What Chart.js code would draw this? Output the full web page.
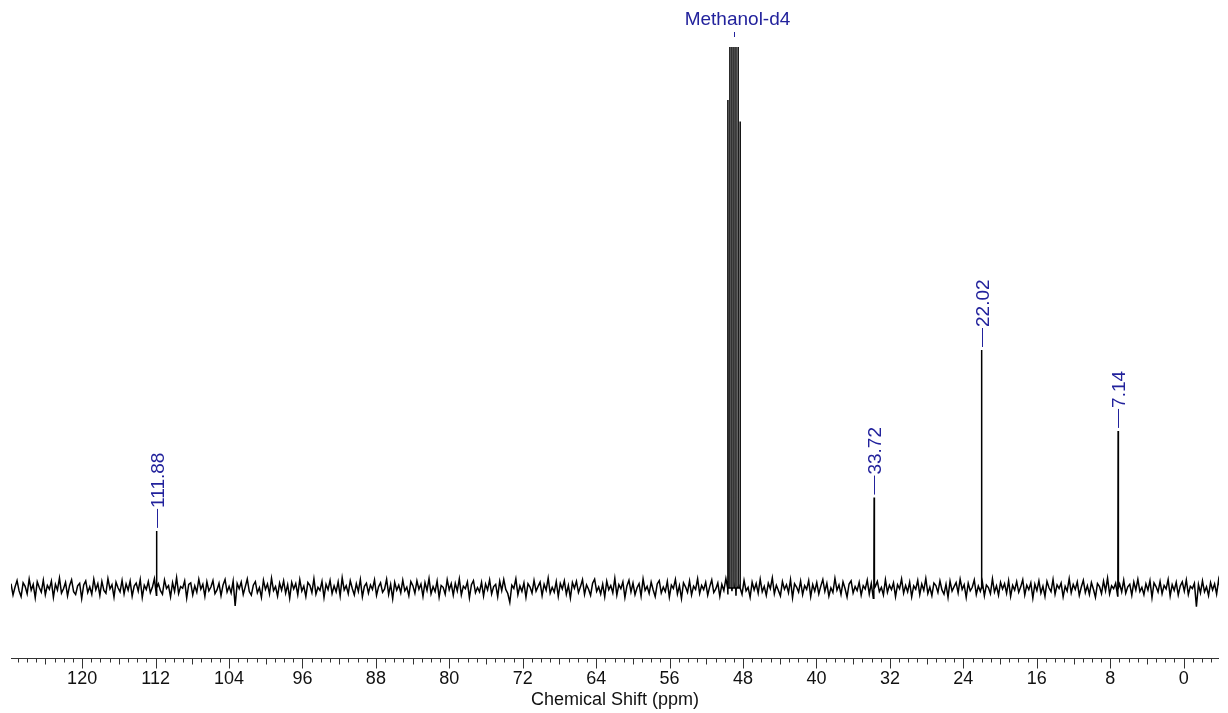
<!DOCTYPE html>
<html>
<head>
<meta charset="utf-8">
<title>13C NMR spectrum</title>
<script src="https://cdn.jsdelivr.net/npm/chart.js@4.4.1/dist/chart.umd.min.js"></script>
<style>
  html, body { margin: 0; padding: 0; background: #fff; }
  #wrap { width: 1228px; height: 713px; position: relative; }
</style>
</head>
<body>
<div id="wrap"><canvas id="nmr"></canvas></div>
<script>
// x range of the plot (ppm), drawn reversed
const X_LEFT = 127.75;
const X_RIGHT = -3.85;
const Y_MIN = -29.4;
const Y_MAX = 227.3;

const tickValues = [120, 112, 104, 96, 88, 80, 72, 64, 56, 48, 40, 32, 24, 16, 8, 0];

// baseline noise, one value every NOISE_STEP ppm from X_LEFT
const NOISE_STEP = 0.22;
const noise = [
  1.8, -2.9, 0.4, 3.1, -1.2, -3.6, 2.2, 0.7, -2.4, 3.8, -0.9, 1.5, -4.1, 2.6, 0.2, -1.7, 3.3, -2.8, 1.1, -0.5,
  2.9, -3.9, 1.6, -0.8, 4.2, -2.1, -0.3, 2.4, -3.3, 1.0, 3.5, -1.5, -2.7, 0.9, 2.0, -4.4, 1.3, 3.0, -1.9, 0.5,
  -2.6, 3.7, -0.7, 1.9, -3.1, 2.8, -1.0, -2.2, 4.0, -0.4, 1.4, -3.8, 2.5, 0.1, -1.6, 3.2, -2.5, 1.7, -0.9, 2.9,
  -3.4, 0.8, 2.1, -1.3, 3.6, -4.0, 1.2, -0.6, 2.7, -2.0, 0.3, 3.9, -3.0, 1.8, -1.1, -2.6, 3.4, -0.2, 1.0, -3.7,
  2.3, -1.4, 4.4, -2.3, 0.6, -0.1, 3.0, -4.2, 1.5, 2.2, -2.9, 0.9, -1.8, 3.7, -0.5, 1.6, -3.5, 2.6, -1.2, 0.4,
  3.1, -2.4, -0.8, 2.0, -3.2, 1.3, 3.6, -1.7, 0.7, -2.1, 2.9, -7.5, 1.9, -0.3, 2.5, -2.7, 0.5, 3.8, -1.5, -3.0,
  1.2, 2.7, -2.0, 0.2, -3.9, 3.3, -0.6, 1.7, -2.5, 4.1, -1.1, 0.6, -3.4, 2.1, -0.9, 3.0, -2.2, 1.4, -4.3, 2.4,
  -0.4, 1.9, -2.8, 3.5, -1.3, 0.8, -3.6, 2.3, 1.1, -1.9, 3.9, -2.6, 0.3, -1.0, 2.8, -4.0, 1.6, -0.7, 3.2, -2.3,
  0.9, -1.6, 2.6, -3.3, 4.3, -0.8, 1.0, -2.4, 3.1, -0.2, -2.9, 1.8, -1.4, 3.6, -3.7, 0.7, 2.0, -2.1, 1.3, -0.6,
  3.4, -3.1, 0.5, 2.2, -1.8, -0.4, 3.7, -2.7, 1.5, -4.5, 2.4, -0.9, 1.2, -2.0, 3.3, -1.2, 0.4, -3.2, 2.7, 1.0,
  -2.2, 3.0, -0.5, 1.7, -3.5, 2.3, -1.0, 4.0, -2.4, 0.6, -1.5, 2.9, -3.8, 1.1, 0.3, -2.6, 3.5, -0.7, 1.9, -3.0,
  2.0, -1.2, 3.8, -2.9, 0.8, -0.3, 2.6, -4.1, 1.4, 3.1, -2.0, 0.2, -1.6, 2.4, -3.3, 1.7, -0.8, 3.4, -2.5, 0.6,
  1.5, -3.6, 2.9, -1.1, 3.6, -0.6, -2.3, -6.0, 1.2, -0.2, 3.9, -2.8, 0.9, -1.4, 2.2, -3.9, 1.8, 0.4, -2.1, 3.2,
  -1.3, 0.7, 2.5, -3.2, 1.6, -0.9, 4.2, -2.2, 0.3, -1.7, 2.7, -3.5, 1.9, -0.4, 3.0, -2.6, 1.1, -4.2, 2.3, -0.1,
  2.8, -1.9, 0.6, 3.5, -2.7, 1.3, -0.5, -3.1, 2.0, 3.7, -1.4, 0.5, -2.5, 1.6, -3.7, 2.9, -0.7, 1.0, -2.0, 4.1,
  -3.0, 1.4, -0.3, 2.6, -4.0, 0.9, 3.3, -1.6, 2.1, -2.8, 0.1, 1.8, -3.4, 3.8, -1.0, 0.7, -2.3, 2.5, -0.8, -3.6,
  1.7, 3.1, -2.1, 0.4, -1.5, 2.8, -3.8, 1.2, -0.2, 3.6, -2.5, 1.0, -4.4, 2.2, 0.5, -1.8, 3.0, -2.9, 0.8, -0.6,
  3.9, -2.3, 1.1, -0.7, 2.4, -3.0, 0.6, 3.4, -1.9, -0.4, 2.1, -3.5, 1.5, -1.1, 4.0, -2.7, 0.2, -1.3, 2.8, -3.2,
  0.9, 1.6, -2.6, 3.2, -1.2, 0.3, -3.9, 2.5, -0.8, 1.9, -2.2, 3.7, -1.6, 0.7, -3.1, 2.0, -0.3, 4.3, -2.4, 1.2,
  -1.0, -3.3, 2.7, -0.5, 1.4, -2.0, 3.5, -4.1, 1.8, 0.4, -1.7, 2.9, -2.8, 1.0, -0.6, 3.1, -3.6, 1.5, -1.3, 2.3,
  -2.5, 0.8, 3.6, -1.4, 2.0, -3.4, 0.1, -1.9, 4.1, -0.9, 1.3, -2.7, 2.6, -0.2, -3.8, 1.7, 3.0, -2.1, 0.6, -1.1,
  2.4, -3.0, 1.0, -0.4, 3.3, -2.5, 1.9, -4.3, 0.7, 2.8, -1.5, 0.3, -2.9, 3.5, -1.8, 1.2, -0.7, 2.2, -3.6, 1.4,
  -0.3, 3.8, -2.2, 1.1, -1.6, 2.5, -3.7, 0.9, -0.5, 3.2, -2.8, 1.7, -1.0, 4.0, -2.3, 0.4, -3.2, 2.1, 1.0, -1.9,
  3.0, -0.8, -2.6, 1.6, -3.9, 2.9, -1.3, 0.6, 2.3, -2.0, 3.7, -0.6, 1.4, -4.0, 2.0, -1.2, 0.3, 3.4, -2.7, 0.8,
  -1.4, 2.6, -3.3, 1.3, 0.2, -2.4, 3.9, -1.7, 0.9, -3.0, 2.4, -0.4, 1.8, -2.2, 3.1, -3.5, 1.1, -0.9, 2.7, -1.8,
  0.5, 3.5, -2.9, 1.2, -0.7, 2.2, -4.2, 1.6, -1.1, 3.0, -2.1, 0.8, -3.5, 2.8, 0.1, -1.5, 3.6, -2.6, 1.3, -0.2,
  2.1, -3.7, 0.7, -1.3, 3.9, -2.0, 1.5, -0.6, 2.6, -3.1, 0.4, 3.2, -1.9, 1.0, -2.7, 2.3, -0.5, -3.9, 1.9, 0.6,
  -2.3, 2.9, -1.2, 4.2, -2.5, 0.9, -0.3, 2.0, -3.4, 1.7, -1.6, 3.3, -2.2, 0.5, 1.6, -3.0, 2.5, -0.8, 3.7, -1.5,
  0.3, -2.8, 1.8, -0.9, 3.1, -4.0, 2.2, 0.6, -1.7, 2.7, -2.4, 1.1, -0.4, 3.6, -3.3, 1.4, -1.0, 2.4, -2.9, 0.9,
  2.6, -1.3, 3.4, -2.7, 0.7, -0.2, 2.0, -7.8, 1.5, -2.1, 3.0, -1.6, 0.5, -3.2, 2.3, -0.8, 1.7, -2.5, 3.5, -1.2
];

// labelled peaks
const peakShifts = [111.88, 33.72, 22.02, 7.14];
const peakHeights = [24, 38, 100, 66];
const peakLabels = ["111.88", "33.72", "22.02", "7.14"];

// solvent septet (Methanol-d4)
const solventShifts = [49.65, 49.43, 49.21, 48.99, 48.77, 48.55, 48.33];
const solventHeights = [205, 620, 1240, 1450, 1240, 620, 196];
const solventLabel = "Methanol-d4";
const solventCenter = 48.99;

const LABEL_BLUE = "#22229c";
const FONT = '"Liberation Sans", Arial, sans-serif';

function buildSpectrum() {
  const pts = noise.map((v, i) => ({ x: X_LEFT - i * NOISE_STEP, y: v }));
  const addLine = (p, h) => {
    pts.push({ x: p + 0.03, y: 0 }, { x: p, y: h }, { x: p - 0.03, y: 0 });
  };
  peakShifts.forEach((p, i) => addLine(p, peakHeights[i]));
  solventShifts.forEach((p, i) => addLine(p, solventHeights[i]));
  return pts.sort((a, b) => b.x - a.x);
}

const annotations = {
  id: "annotations",
  afterDatasetsDraw(chart) {
    const { ctx, chartArea } = chart;
    const xs = chart.scales.x;
    const ys = chart.scales.y;
    ctx.save();

    // axis line with minor / mid / major ticks
    const yAx = Math.round(chartArea.bottom) + 0.5;
    ctx.strokeStyle = "#333";
    ctx.lineWidth = 1;
    ctx.beginPath();
    ctx.moveTo(chartArea.left, yAx);
    ctx.lineTo(chartArea.right, yAx);
    for (let v = Math.ceil(X_RIGHT); v <= Math.floor(X_LEFT); v++) {
      const px = Math.round(xs.getPixelForValue(v)) + 0.5;
      const len = v % 8 === 0 ? 10 : (v % 4 === 0 ? 6 : 4);
      ctx.moveTo(px, yAx);
      ctx.lineTo(px, yAx + len);
    }
    ctx.stroke();

    // peak labels, rotated
    ctx.font = "19px " + FONT;
    ctx.fillStyle = LABEL_BLUE;
    ctx.strokeStyle = LABEL_BLUE;
    peakShifts.forEach((p, i) => {
      const px = Math.round(xs.getPixelForValue(p)) + 0.5;
      const top = ys.getPixelForValue(peakHeights[i]);
      ctx.beginPath();
      ctx.moveTo(px, top - 3);
      ctx.lineTo(px, top - 22);
      ctx.stroke();
      ctx.save();
      ctx.translate(px, top - 23);
      ctx.rotate(-Math.PI / 2);
      ctx.textAlign = "left";
      ctx.textBaseline = "middle";
      ctx.fillText(peakLabels[i], 0, 1);
      ctx.restore();
    });

    // solvent label
    const sx = Math.round(xs.getPixelForValue(solventCenter)) + 0.5;
    ctx.beginPath();
    ctx.moveTo(sx, 32);
    ctx.lineTo(sx, 37);
    ctx.stroke();
    ctx.textAlign = "center";
    ctx.textBaseline = "middle";
    ctx.fillText(solventLabel, sx + 3, 20);

    ctx.restore();
  }
};

new Chart(document.getElementById("nmr"), {
  type: "line",
  data: {
    datasets: [
      {
        data: buildSpectrum(),
        borderColor: "#000",
        borderWidth: 1.5,
        pointRadius: 0,
        tension: 0,
        fill: false,
      },
    ],
  },
  options: {
    responsive: true,
    maintainAspectRatio: false,
    animation: false,
    events: [],
    layout: { padding: { top: 47, left: 11, right: 9, bottom: 0 } },
    plugins: { legend: { display: false }, tooltip: { enabled: false } },
    scales: {
      x: {
        type: "linear",
        reverse: true,
        min: X_RIGHT,
        max: X_LEFT,
        afterBuildTicks: (scale) => {
          scale.ticks = tickValues.map((v) => ({ value: v }));
        },
        afterFit: (scale) => {
          scale.height = 55;
        },
        grid: { display: false, drawTicks: false, tickLength: 0 },
        border: { display: false },
        ticks: {
          color: "#111",
          padding: 10,
          maxRotation: 0,
          autoSkip: false,
          font: { family: FONT, size: 18 },
        },
        title: {
          display: true,
          text: "Chemical Shift (ppm)",
          color: "#111",
          padding: { top: 0, bottom: 2 },
          font: { family: FONT, size: 18 },
        },
      },
      y: {
        display: false,
        min: Y_MIN,
        max: Y_MAX,
      },
    },
  },
  plugins: [annotations],
});
</script>
</body>
</html>
